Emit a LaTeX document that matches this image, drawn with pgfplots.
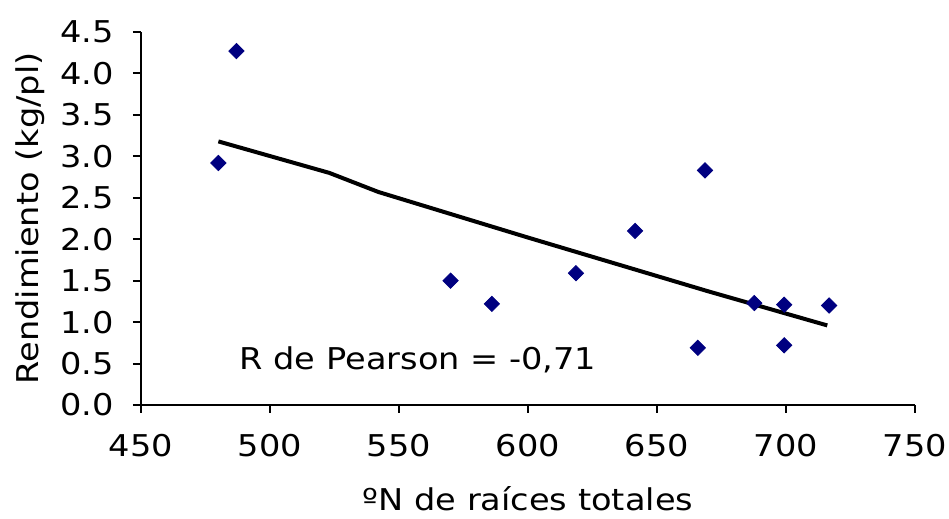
\documentclass[border=0pt]{standalone}
\usepackage{pgfplots}
\pgfplotsset{compat=1.18}
\usepackage{fontspec}
\setmainfont{DejaVu Sans}[FakeStretch=1.12]
\definecolor{navy}{HTML}{000080}

\begin{document}
\begin{tikzpicture}
\begin{axis}[
    scale only axis,
    width=387pt, height=186.5pt,
    xmin=450, xmax=750,
    ymin=0, ymax=4.5,
    xtick={450,500,...,750},
    ytick={0,0.5,...,4.5},
    axis x line*=bottom,
    axis y line*=left,
    axis line style={line width=1pt},
    tick align=outside,
    major tick length=4pt,
    tick style={line width=1pt, black},
    font=\fontsize{15}{18}\selectfont,
    /pgf/number format/assume math mode=true,
    yticklabel style={xshift=-6pt, /pgf/number format/.cd, fixed, fixed zerofill, precision=1},
    xticklabel style={yshift=-7pt},
    xlabel={ºN de raíces totales},
    ylabel={Rendimiento (kg/pl)},
    xlabel style={yshift=-8pt},
    ylabel style={yshift=1pt},
    clip=false
]

% observaciones
\addplot[only marks, mark=square*, mark size=2.7pt, mark options={rotate=45}, color=navy] coordinates {
    (480,2.92) (487,4.27) (570,1.50) (586,1.22) (618.6,1.59)
    (641.5,2.10) (668.6,2.83) (665.8,0.69) (687.7,1.23)
    (699.3,1.21) (699.3,0.72) (716.7,1.20)
};

% tendencia
\addplot[black, line width=2pt] coordinates {
    (480,3.18) (523,2.80) (542,2.57) (600,2.02) (670,1.37) (716,0.96)
};

\node[anchor=west] at (axis cs:485.5,0.54) {R de Pearson = -0,71};

\end{axis}
% marco fijo como en la imagen original
\pgfresetboundingbox
\useasboundingbox ([shift={(-70.5pt,-57pt)}]current axis.south west)
    rectangle ([shift={(17pt,16pt)}]current axis.north east);
\end{tikzpicture}
\end{document}
